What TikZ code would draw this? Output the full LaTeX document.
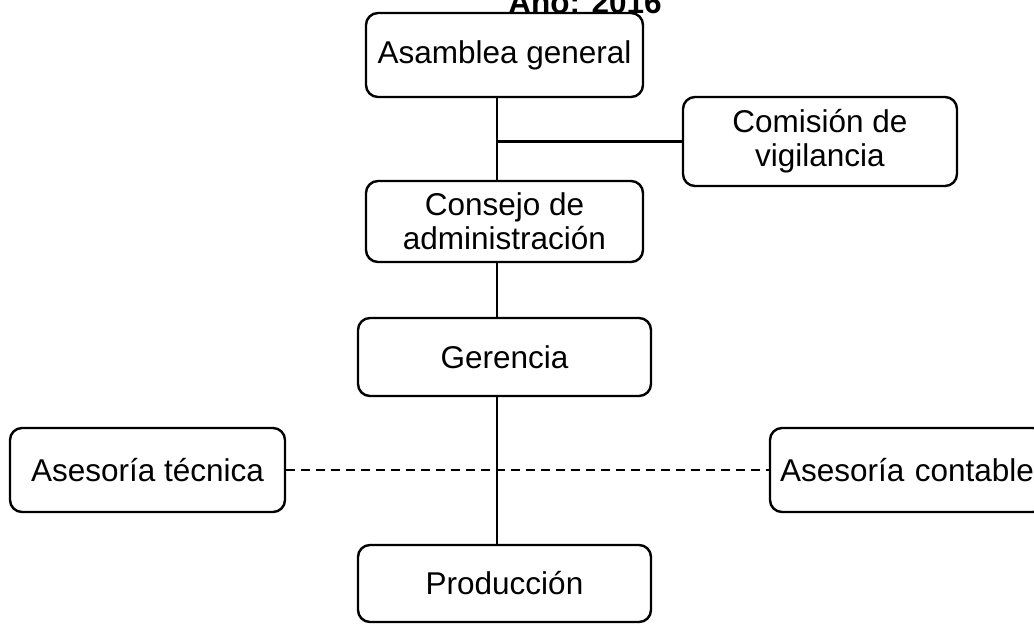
\documentclass[tikz,border=0pt]{standalone}
\usepackage{fontspec}
\setmainfont{Liberation Sans}
\begin{document}
\begin{tikzpicture}[x=1pt,y=-1pt,
  orgbox/.style={draw, line width=2.4pt, rounded corners=12pt, fill=white,
    align=center, inner sep=0pt, font=\fontsize{31.5}{34}\selectfont},
  link/.style={line width=2.2pt},
  dotted link/.style={line width=2.2pt, dash pattern=on 9pt off 6pt}]
\useasboundingbox (0,0) rectangle (1034,624);
% title, partly above the page edge
\node[anchor=base, font=\bfseries\fontsize{31.5}{34}\selectfont] (title) at (585,13) {Año: 2016};
% boxes
\node[orgbox, minimum width=277pt, minimum height=84pt] (asamblea) at (504.5,55) {Asamblea general};
\node[orgbox, minimum width=274pt, minimum height=89pt] (comision) at (820,141.5) {Comisión de\\vigilancia};
\node[orgbox, minimum width=277pt, minimum height=81pt] (consejo) at (504.5,221.5) {Consejo de\\administración};
\node[orgbox, minimum width=293pt, minimum height=78pt] (gerencia) at (504.5,357) {Gerencia};
\node[orgbox, minimum width=275pt, minimum height=84pt] (tecnica) at (147.5,470) {Asesoría técnica};
\node[orgbox, minimum width=275pt, minimum height=84pt, text width=275pt, align=left] (contable) at (907.5,470) {\hspace*{10pt}Asesoría contable};
\node[orgbox, minimum width=293pt, minimum height=77pt] (produccion) at (504.5,583.5) {Producción};
% connectors
\coordinate (trunk) at (497,0);
\draw[link] (asamblea.south -| trunk) -- (consejo.north -| trunk);
\draw[link] (comision.west -| trunk) -- (comision.west);
\draw[link] (consejo.south -| trunk) -- (gerencia.north -| trunk);
\draw[dotted link] (tecnica.east) -- (contable.west);
\draw[link] (gerencia.south -| trunk) -- (produccion.north -| trunk);
\end{tikzpicture}
\end{document}
